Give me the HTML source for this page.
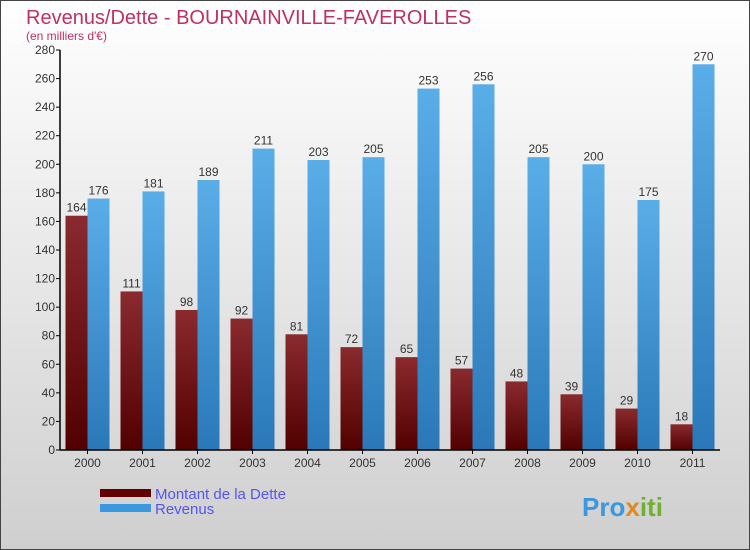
<!DOCTYPE html>
<html><head><meta charset="utf-8"><style>
body{margin:0;width:750px;height:550px;overflow:hidden;font-family:"Liberation Sans",sans-serif}
#c{position:absolute;left:0;top:0;width:748px;height:548px;border:1px solid #444;background:linear-gradient(#ffffff,#cfcfcf)}
</style></head><body>
<div id="c">
<svg id="s" width="750" height="550" style="position:absolute;left:-1px;top:-1px">
<defs>
<linearGradient id="gd" x1="0" y1="0" x2="0" y2="1"><stop offset="0" stop-color="#8a2a2e"/><stop offset="1" stop-color="#520000"/></linearGradient>
<linearGradient id="gr" x1="0" y1="0" x2="0" y2="1"><stop offset="0" stop-color="#5aaee8"/><stop offset="1" stop-color="#2a78b8"/></linearGradient>
</defs>
<text x="26" y="24" font-size="20" fill="#c03060">Revenus/Dette - BOURNAINVILLE-FAVEROLLES</text>
<text x="26" y="40" font-size="12" fill="#c03060">(en milliers d'€)</text>
<g id="bars"></g>
<g id="axes"></g>
<rect x="100" y="489" width="51" height="8" fill="#600000"/>
<rect x="100" y="504" width="51" height="8" fill="#3a98e0"/>
<text x="155" y="499" font-size="15" fill="#5555ee">Montant de la Dette</text>
<text x="155" y="514" font-size="15" fill="#5555ee">Revenus</text>
<text x="582" y="516" font-size="26" font-weight="bold" fill="#3a98e0">Pro<tspan fill="#e08a20">x</tspan><tspan fill="#70b030">iti</tspan></text>
</svg></div>
<script>
const years=["2000","2001","2002","2003","2004","2005","2006","2007","2008","2009","2010","2011"];
const dette=[164,111,98,92,81,72,65,57,48,39,29,18];
const revenus=[176,181,189,211,203,205,253,256,205,200,175,270];
const ticks=[0,20,40,60,80,100,120,140,160,180,200,220,240,260,280];
const NS="http://www.w3.org/2000/svg";
const x0=60,x1=720,yb=450,yt=50,ymax=280;
const y=v=>yb-(v/ymax)*(yb-yt);
const bw=(x1-x0)/years.length;
const cx=i=>x0+bw*(i+0.5);
function mk(t,a,p){const e=document.createElementNS(NS,t);for(const k in a)e.setAttribute(k,a[k]);p.appendChild(e);return e;}
const B=document.getElementById('bars'),A=document.getElementById('axes');
years.forEach((yr,i)=>{
 const c=cx(i);
 let r=mk('rect',{x:c-22,y:y(dette[i]),width:22,height:yb-y(dette[i]),fill:'url(#gd)'},B);
 
 
 let r2=mk('rect',{x:c,y:y(revenus[i]),width:22,height:yb-y(revenus[i]),fill:'url(#gr)'},B);
 
 
 let t=mk('text',{x:c-11,y:y(dette[i])-4,'font-size':12,fill:'#333','text-anchor':'middle'},B);t.textContent=dette[i];
 
 
 let t2=mk('text',{x:c+11,y:y(revenus[i])-4,'font-size':12,fill:'#333','text-anchor':'middle'},B);t2.textContent=revenus[i];
 
 
 mk('line',{x1:c,x2:c,y1:yb,y2:yb+4,stroke:'#000'},A);
 let l=mk('text',{x:c,y:yb+17,'font-size':12,fill:'#333','text-anchor':'middle'},A);l.textContent=yr;
 
 
});
ticks.forEach(v=>{
 mk('line',{x1:x0-4,x2:x0,y1:y(v),y2:y(v),stroke:'#000'},A);
 let t=mk('text',{x:x0-5,y:y(v)+4,'font-size':12,fill:'#333','text-anchor':'end'},A);t.textContent=v;
 
 
});
let ya=mk('line',{x1:x0,x2:x0,y1:yt,y2:yb,stroke:'#000','stroke-width':1.5},A);


let xa=mk('line',{x1:x0,x2:x1,y1:yb,y2:yb,stroke:'#000','stroke-width':1.5},A);


</script>
</body></html>
